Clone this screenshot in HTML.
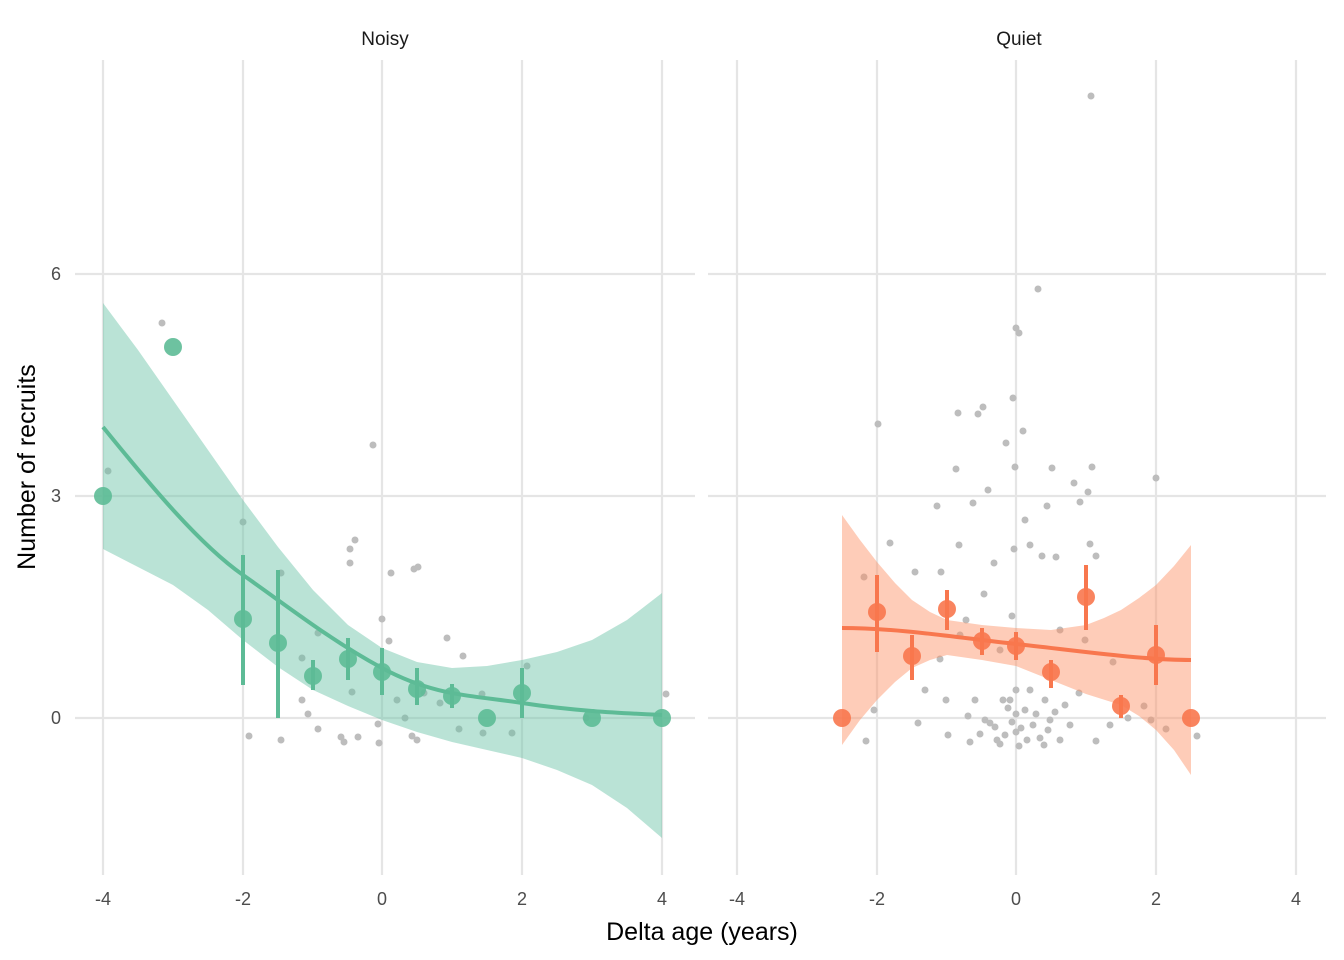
<!DOCTYPE html>
<html><head><meta charset="utf-8"><style>body{margin:0;background:#fff}svg{display:block}text{font-family:"Liberation Sans",sans-serif}</style></head><body>
<svg width="1344" height="960" xmlns="http://www.w3.org/2000/svg">
<g stroke="#e5e5e5" stroke-width="2.2">
<line x1="75" x2="695" y1="718" y2="718"/><line x1="75" x2="695" y1="496" y2="496"/><line x1="75" x2="695" y1="274" y2="274"/>
<line x1="103" x2="103" y1="60" y2="875"/><line x1="243" x2="243" y1="60" y2="875"/><line x1="382" x2="382" y1="60" y2="875"/><line x1="522" x2="522" y1="60" y2="875"/><line x1="662" x2="662" y1="60" y2="875"/>
<line x1="708" x2="1326" y1="718" y2="718"/><line x1="708" x2="1326" y1="496" y2="496"/><line x1="708" x2="1326" y1="274" y2="274"/>
<line x1="737" x2="737" y1="60" y2="875"/><line x1="877" x2="877" y1="60" y2="875"/><line x1="1016" x2="1016" y1="60" y2="875"/><line x1="1156" x2="1156" y1="60" y2="875"/><line x1="1296" x2="1296" y1="60" y2="875"/>
</g>
<g fill="#bdbdbd">
<circle cx="108" cy="471" r="3.5"/><circle cx="162" cy="323" r="3.5"/><circle cx="243" cy="522" r="3.5"/><circle cx="249" cy="736" r="3.5"/><circle cx="281" cy="573" r="3.5"/><circle cx="281" cy="740" r="3.5"/><circle cx="302" cy="658" r="3.5"/><circle cx="302" cy="700" r="3.5"/><circle cx="308" cy="714" r="3.5"/><circle cx="318" cy="633" r="3.5"/><circle cx="318" cy="729" r="3.5"/><circle cx="341" cy="737" r="3.5"/><circle cx="344" cy="742" r="3.5"/><circle cx="350" cy="549" r="3.5"/><circle cx="350" cy="563" r="3.5"/><circle cx="355" cy="540" r="3.5"/><circle cx="352" cy="692" r="3.5"/><circle cx="358" cy="737" r="3.5"/><circle cx="373" cy="445" r="3.5"/><circle cx="378" cy="724" r="3.5"/><circle cx="379" cy="743" r="3.5"/><circle cx="382" cy="619" r="3.5"/><circle cx="389" cy="641" r="3.5"/><circle cx="391" cy="573" r="3.5"/><circle cx="397" cy="700" r="3.5"/><circle cx="405" cy="718" r="3.5"/><circle cx="414" cy="569" r="3.5"/><circle cx="418" cy="567" r="3.5"/><circle cx="412" cy="736" r="3.5"/><circle cx="417" cy="740" r="3.5"/><circle cx="424" cy="693" r="3.5"/><circle cx="447" cy="638" r="3.5"/><circle cx="440" cy="703" r="3.5"/><circle cx="459" cy="729" r="3.5"/><circle cx="463" cy="656" r="3.5"/><circle cx="482" cy="694" r="3.5"/><circle cx="483" cy="733" r="3.5"/><circle cx="512" cy="733" r="3.5"/><circle cx="527" cy="666" r="3.5"/><circle cx="586" cy="718" r="3.5"/><circle cx="666" cy="694" r="3.5"/>
<circle cx="878" cy="424" r="3.5"/><circle cx="864" cy="577" r="3.5"/><circle cx="866" cy="741" r="3.5"/><circle cx="874" cy="710" r="3.5"/><circle cx="890" cy="543" r="3.5"/><circle cx="915" cy="572" r="3.5"/><circle cx="918" cy="723" r="3.5"/><circle cx="937" cy="506" r="3.5"/><circle cx="941" cy="572" r="3.5"/><circle cx="940" cy="659" r="3.5"/><circle cx="946" cy="700" r="3.5"/><circle cx="948" cy="735" r="3.5"/><circle cx="958" cy="413" r="3.5"/><circle cx="956" cy="469" r="3.5"/><circle cx="959" cy="545" r="3.5"/><circle cx="966" cy="620" r="3.5"/><circle cx="968" cy="716" r="3.5"/><circle cx="970" cy="742" r="3.5"/><circle cx="973" cy="503" r="3.5"/><circle cx="978" cy="414" r="3.5"/><circle cx="983" cy="407" r="3.5"/><circle cx="984" cy="594" r="3.5"/><circle cx="988" cy="490" r="3.5"/><circle cx="994" cy="563" r="3.5"/><circle cx="990" cy="723" r="3.5"/><circle cx="997" cy="740" r="3.5"/><circle cx="1003" cy="700" r="3.5"/><circle cx="1006" cy="443" r="3.5"/><circle cx="1013" cy="398" r="3.5"/><circle cx="1015" cy="467" r="3.5"/><circle cx="1014" cy="549" r="3.5"/><circle cx="1012" cy="616" r="3.5"/><circle cx="1016" cy="328" r="3.5"/><circle cx="1019" cy="333" r="3.5"/><circle cx="1016" cy="690" r="3.5"/><circle cx="1016" cy="714" r="3.5"/><circle cx="1016" cy="732" r="3.5"/><circle cx="1019" cy="746" r="3.5"/><circle cx="1023" cy="431" r="3.5"/><circle cx="1025" cy="520" r="3.5"/><circle cx="1030" cy="545" r="3.5"/><circle cx="1038" cy="289" r="3.5"/><circle cx="1042" cy="556" r="3.5"/><circle cx="1047" cy="506" r="3.5"/><circle cx="1052" cy="468" r="3.5"/><circle cx="1056" cy="557" r="3.5"/><circle cx="1045" cy="700" r="3.5"/><circle cx="1050" cy="720" r="3.5"/><circle cx="1060" cy="740" r="3.5"/><circle cx="1074" cy="483" r="3.5"/><circle cx="1080" cy="502" r="3.5"/><circle cx="1088" cy="492" r="3.5"/><circle cx="1092" cy="467" r="3.5"/><circle cx="1090" cy="544" r="3.5"/><circle cx="1096" cy="556" r="3.5"/><circle cx="1096" cy="741" r="3.5"/><circle cx="1079" cy="693" r="3.5"/><circle cx="1091" cy="96" r="3.5"/><circle cx="1113" cy="662" r="3.5"/><circle cx="1110" cy="725" r="3.5"/><circle cx="1144" cy="706" r="3.5"/><circle cx="1156" cy="478" r="3.5"/><circle cx="1151" cy="720" r="3.5"/><circle cx="1166" cy="729" r="3.5"/><circle cx="1197" cy="736" r="3.5"/><circle cx="1128" cy="718" r="3.5"/>
<circle cx="985" cy="720" r="3.5"/><circle cx="995" cy="727" r="3.5"/><circle cx="1005" cy="735" r="3.5"/><circle cx="1025" cy="710" r="3.5"/><circle cx="1033" cy="725" r="3.5"/><circle cx="1040" cy="738" r="3.5"/><circle cx="1065" cy="705" r="3.5"/><circle cx="1070" cy="725" r="3.5"/><circle cx="975" cy="700" r="3.5"/><circle cx="1010" cy="700" r="3.5"/><circle cx="1030" cy="690" r="3.5"/><circle cx="1060" cy="630" r="3.5"/><circle cx="1000" cy="650" r="3.5"/><circle cx="960" cy="635" r="3.5"/><circle cx="925" cy="690" r="3.5"/><circle cx="1085" cy="640" r="3.5"/>
<circle cx="1008" cy="708" r="3.5"/><circle cx="1021" cy="728" r="3.5"/><circle cx="1036" cy="714" r="3.5"/><circle cx="1044" cy="745" r="3.5"/><circle cx="1000" cy="744" r="3.5"/><circle cx="1027" cy="740" r="3.5"/><circle cx="1055" cy="712" r="3.5"/><circle cx="1012" cy="722" r="3.5"/><circle cx="980" cy="734" r="3.5"/><circle cx="1048" cy="730" r="3.5"/>
</g>
<path d="M103,303 L138,350 L173,400 L208,450 L243,500 L278,547 L313,590 L348,625 L382,648 L417,662 L452,668 L487,666 L522,660 L557,652 L592,640 L627,620 L662,593 L662,838 L627,808 L592,785 L557,770 L522,758 L487,750 L452,742 L417,732 L382,720 L348,706 L313,690 L278,667 L243,640 L208,610 L173,585 L138,567 L103,549Z" fill="#66c2a5" fill-opacity="0.45"/>
<path d="M842,515 L860,540 L877,562 L895,583 L912,600 L930,612 L947,620 L982,625 L1016,628 L1051,630 L1086,625 L1104,618 L1121,610 L1139,598 L1156,585 L1174,566 L1191,545 L1191,775 L1174,750 L1156,730 L1139,716 L1121,705 L1086,694 L1051,680 L1016,666 L982,660 L947,655 L930,660 L912,668 L895,682 L877,700 L860,720 L842,745Z" fill="#fc8d62" fill-opacity="0.45"/>
<path d="M103,427 C150,485 200,545 243,575 S330,640 382,668 S470,695 522,703 S620,713 662,715" fill="none" stroke="#5dbb96" stroke-width="4"/>
<path d="M842,628 C900,628 960,638 1016,644 S1140,660 1191,660" fill="none" stroke="#f8774e" stroke-width="4"/>
<g stroke="#5dbb96" stroke-width="4"><line x1="243" x2="243" y1="555" y2="685"/><line x1="278" x2="278" y1="570" y2="718"/><line x1="313" x2="313" y1="660" y2="690"/><line x1="348" x2="348" y1="638" y2="680"/><line x1="382" x2="382" y1="648" y2="695"/><line x1="417" x2="417" y1="668" y2="705"/><line x1="452" x2="452" y1="684" y2="708"/><line x1="522" x2="522" y1="668" y2="718"/></g>
<g fill="#5dbb96" fill-opacity="0.9"><circle cx="103" cy="496" r="9"/><circle cx="173" cy="347" r="9"/><circle cx="243" cy="619" r="9"/><circle cx="278" cy="643" r="9"/><circle cx="313" cy="676" r="9"/><circle cx="348" cy="659" r="9"/><circle cx="382" cy="672" r="9"/><circle cx="417" cy="689" r="9"/><circle cx="452" cy="696" r="9"/><circle cx="487" cy="718" r="9"/><circle cx="522" cy="693" r="9"/><circle cx="592" cy="718" r="9"/><circle cx="662" cy="718" r="9"/></g>
<g stroke="#f8774e" stroke-width="4"><line x1="877" x2="877" y1="575" y2="652"/><line x1="912" x2="912" y1="635" y2="680"/><line x1="947" x2="947" y1="590" y2="630"/><line x1="982" x2="982" y1="628" y2="655"/><line x1="1016" x2="1016" y1="632" y2="660"/><line x1="1051" x2="1051" y1="660" y2="688"/><line x1="1086" x2="1086" y1="565" y2="630"/><line x1="1121" x2="1121" y1="695" y2="718"/><line x1="1156" x2="1156" y1="625" y2="685"/></g>
<g fill="#f8774e" fill-opacity="0.9"><circle cx="842" cy="718" r="9"/><circle cx="877" cy="612" r="9"/><circle cx="912" cy="656" r="9"/><circle cx="947" cy="609" r="9"/><circle cx="982" cy="641" r="9"/><circle cx="1016" cy="646" r="9"/><circle cx="1051" cy="672" r="9"/><circle cx="1086" cy="597" r="9"/><circle cx="1121" cy="706" r="9"/><circle cx="1156" cy="655" r="9"/><circle cx="1191" cy="718" r="9"/></g>
<g font-size="19" fill="#1a1a1a" text-anchor="middle"><text x="385" y="45">Noisy</text><text x="1019" y="45">Quiet</text></g>
<g font-size="18" fill="#4d4d4d" text-anchor="middle">
<text x="103" y="905">-4</text><text x="243" y="905">-2</text><text x="382" y="905">0</text><text x="522" y="905">2</text><text x="662" y="905">4</text>
<text x="737" y="905">-4</text><text x="877" y="905">-2</text><text x="1016" y="905">0</text><text x="1156" y="905">2</text><text x="1296" y="905">4</text>
<text x="56" y="724">0</text><text x="56" y="502">3</text><text x="56" y="280">6</text></g>
<text x="702" y="940" font-size="25" text-anchor="middle" fill="#000">Delta age (years)</text>
<text transform="translate(35,467) rotate(-90)" font-size="25" text-anchor="middle" fill="#000">Number of recruits</text>
</svg>
</body></html>
